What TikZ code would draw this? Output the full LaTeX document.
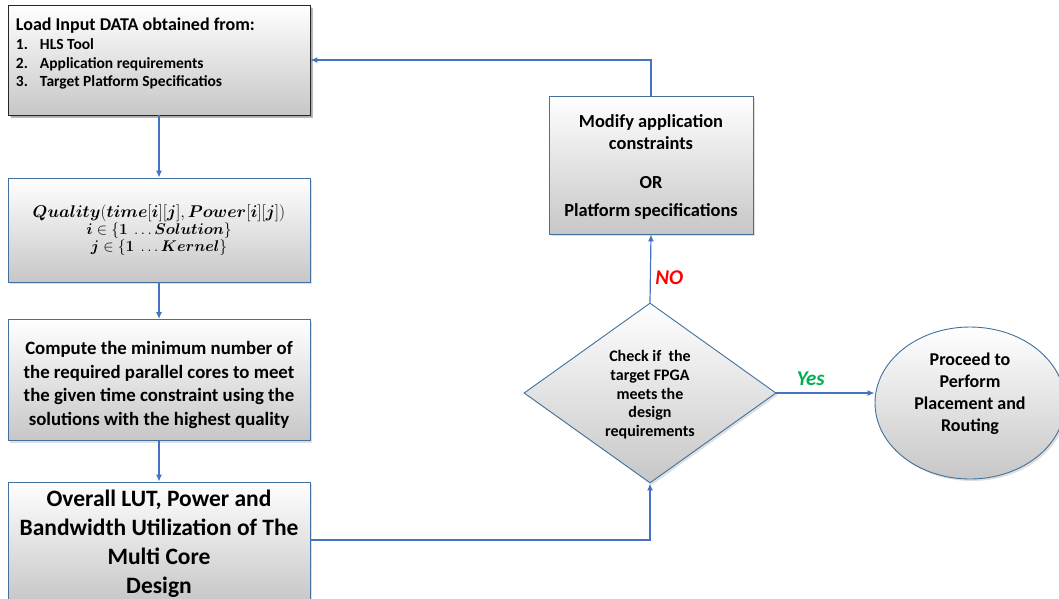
\RequirePackage{fix-cm}
\documentclass[tikz,border=0pt]{standalone}
\usepackage{amsmath, amssymb}
\usepackage{fontspec}
\setmainfont{Carlito}
\usepackage{tikz}
\usetikzlibrary{arrows.meta, shapes.geometric, shadows}

\definecolor{flowblue}{HTML}{4472C4}
\definecolor{edgeblue}{HTML}{41719C}
\definecolor{yesgreen}{HTML}{00B050}

\tikzset{
  stagebox/.style={draw=edgeblue, line width=0.9pt, top color=white, middle color=white,
    bottom color=black!22, font=\bfseries, align=center, inner sep=0pt,
    drop shadow={shadow xshift=2pt, shadow yshift=-2pt, opacity=0.25}},
  flow/.style={draw=flowblue, line width=1.2pt, -{Latex[length=7pt, width=6pt]}},
  answer/.style={font=\bfseries\itshape\fontsize{21}{24}\selectfont},
}

\begin{document}
\begin{tikzpicture}[x=1pt, y=-1pt]
\useasboundingbox (0,0) rectangle (1059,598);

% left column
\node[stagebox, draw=black!85, minimum width=302pt, minimum height=110pt,
  drop shadow={shadow xshift=3pt, shadow yshift=-3pt, opacity=0.55}] (load) at (159,60)
  {\parbox[c][96pt][t]{286pt}{\raggedright\vspace*{5.5pt}
   \fontsize{15.5}{18.5}\selectfont
   {\fontsize{18}{18.5}\selectfont Load Input DATA obtained from:}\\[1pt]
   \makebox[24pt][l]{1.}HLS Tool\\
   \makebox[24pt][l]{2.}Application requirements\\
   \makebox[24pt][l]{3.}Target Platform Specificatios}};

\node[stagebox, minimum width=302pt, minimum height=104pt] (quality) at (159,230)
  {{\fontsize{17}{20}\selectfont $\boldsymbol{Quality}(\boldsymbol{time}[\boldsymbol{i}][\boldsymbol{j}], \boldsymbol{Power}[\boldsymbol{i}][\boldsymbol{j}])$}\\
   {\fontsize{15.5}{20}\selectfont $\boldsymbol{i} \in \{\boldsymbol{1}\ \ldots \boldsymbol{Solution}\}$}\\
   {\fontsize{15.5}{18}\selectfont $\boldsymbol{j} \in \{\boldsymbol{1}\ \ldots \boldsymbol{Kernel}\}$}};

\node[stagebox, minimum width=302pt, minimum height=121pt,
  font=\bfseries\fontsize{18.8}{23.5}\selectfont] (compute) at (159,380)
  {\rule{0pt}{23pt}Compute the minimum number of\\the required parallel cores to meet\\the given time constraint using the\\solutions with the highest quality};

\node[stagebox, minimum width=302pt, minimum height=120pt,
  font=\bfseries\fontsize{23.5}{29}\selectfont] (overall) at (159,542)
  {\rule{0pt}{20pt}Overall LUT, Power and\\Bandwidth Utilization of The\\Multi Core\\Design};

% right part
\node[stagebox, minimum width=204pt, minimum height=138pt,
  font=\bfseries\fontsize{18.4}{22}\selectfont] (modify) at (651,165)
  {\rule{0pt}{16pt}Modify application\\constraints\\[17pt]OR\\[6pt]Platform specifications};

\node[stagebox, diamond, aspect=1.4, minimum width=252pt, minimum height=180pt,
  font=\bfseries\fontsize{16}{18.7}\selectfont, drop shadow={opacity=0}] (check) at (650,393)
  {\rule{0pt}{15pt}Check if~ the\\target FPGA\\meets the\\design\\requirements};

\node[stagebox, ellipse, minimum width=190pt, minimum height=152pt,
  font=\bfseries\fontsize{18}{22}\selectfont, drop shadow={opacity=0}] (proceed) at (970,403)
  {Proceed to\\Perform\\Placement and\\Routing\rule[-21pt]{0pt}{1pt}};

% connectors
\draw[flow] (load.south) -- (quality.north);
\draw[flow] (quality.south) -- (compute.north);
\draw[flow] (compute.south) -- (overall.north);
\draw[flow] ([yshift=2pt]overall.east) -| (check.south);
\draw[flow] (check.north) -- node[pos=0.37, right=1pt, answer, text=red] {NO} (modify.south);
\draw[flow] (modify.north) |- (load.east);
\draw[flow] (check.east) -- node[pos=0.35, above=3pt, answer, text=yesgreen] {Yes}
  (check.east -| proceed.west);
\end{tikzpicture}
\end{document}
